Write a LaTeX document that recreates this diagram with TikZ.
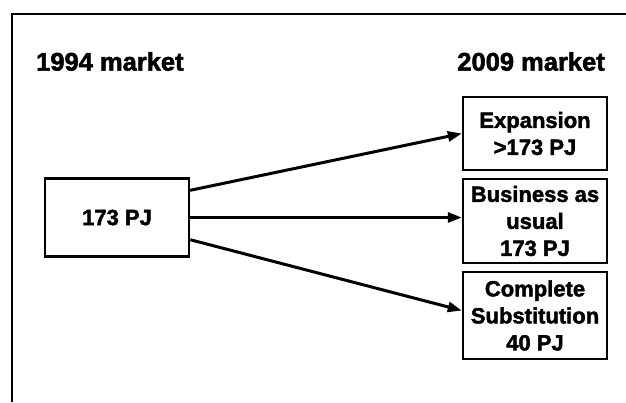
\documentclass[tikz,border=0pt]{standalone}
\usepackage{fontspec}
\setmainfont{Liberation Sans}
\newfontfamily\heavy{Liberation Sans Bold}[FakeBold=2]
\usetikzlibrary{arrows.meta,calc}
\begin{document}
\begin{tikzpicture}[x=1pt,y=-1pt,
  box/.style={draw=black,line width=2.4pt,rectangle,inner sep=0pt,
    minimum width=144pt,align=center,font=\heavy\fontsize{22}{27}\selectfont},
  title/.style={font=\heavy\fontsize{25.5}{30}\selectfont,inner sep=0pt},
  arr/.style={line width=3pt,-{Triangle[length=14pt,width=10pt]}},
  frame/.style={line width=2pt}]
\useasboundingbox (0,0) rectangle (626,402);
\coordinate (fb) at (12,402);
\coordinate (ftl) at (12,14);
\coordinate (ftr) at (626,14);
\draw[frame] (fb) -- (ftl) -- (ftr);
\node[title,anchor=west] (t1) at (36,61.5) {1994 market};
\node[title,anchor=east] (t2) at (605,61.5) {2009 market};
\node[box,minimum height=78pt] (L) at (117,217.5) {173 PJ};
\node[box,minimum height=73pt] (E) at (535,133.5) {Expansion\\>173 PJ};
\node[box,minimum height=84pt] (B) at (535,221) {Business as\\usual\\173 PJ};
\node[box,minimum height=87pt] (C) at (535,315.5) {Complete\\Substitution\\40 PJ};
\draw[arr] ($(L.north east)+(0,13)$) -- (E.west);
\draw[arr] (L.east) -- (L.east -| B.west);
\draw[arr] ($(L.south east)+(0,-18)$) -- ($(C.west)+(0,-5)$);
\end{tikzpicture}
\end{document}
